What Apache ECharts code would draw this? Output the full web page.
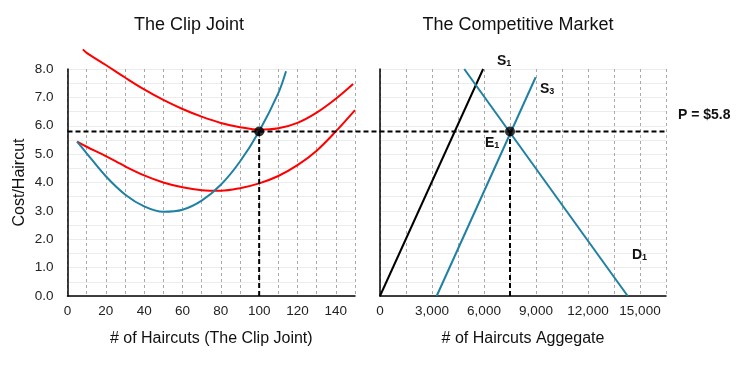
<!DOCTYPE html>
<html><head><meta charset="utf-8">
<script src="https://cdn.jsdelivr.net/npm/echarts@6/dist/echarts.min.js"></script>
<style>html,body{margin:0;padding:0;background:#fff}#c{width:753px;height:366px}</style>
</head><body><div id="c"></div>
<script>
// ---- data ----
const titles = ['The Clip Joint', 'The Competitive Market'];
const axisNames = ['# of Haircuts (The Clip Joint)', '# of Haircuts Aggegate', 'Cost/Haircut'];
const clipTickLabels = [0, 20, 40, 60, 80, 100, 120, 140];
const marketTickLabels = [0, 3000, 6000, 9000, 12000, 15000];
const costTickLabels = [0, 1, 2, 3, 4, 5, 6, 7, 8];

const mcQ   = [5, 10, 20, 30, 40, 50, 60, 70, 80, 90, 100, 110, 114];
const mcV   = [5.44, 5.03, 4.22, 3.58, 3.16, 2.97, 3.04, 3.36, 3.92, 4.74, 5.81, 7.15, 7.92];
const avcQ  = [5, 10, 20, 30, 40, 50, 60, 70, 80, 90, 100, 110, 120, 130, 140, 150];
const avcV  = [5.44, 5.26, 4.93, 4.57, 4.25, 4.00, 3.83, 3.73, 3.71, 3.80, 3.97, 4.23, 4.61, 5.12, 5.80, 6.55];
const atcQ  = [8, 10, 20, 30, 40, 50, 60, 70, 80, 90, 100, 110, 120, 130, 140, 149];
const atcV  = [8.69, 8.57, 8.14, 7.70, 7.28, 6.91, 6.59, 6.32, 6.10, 5.95, 5.86, 5.91, 6.10, 6.46, 6.95, 7.47];

const s1Q = [0, 5950];     const s1P = [0, 8.0];
const s3Q = [3270, 8980];  const s3P = [0, 7.71];
const d1Q = [4860, 14290]; const d1P = [8.0, 0];

const price = 5.8;
const firmQ = 100;
const marketQ = 7500;

// ---- helpers ----
const zip = (a, b) => a.map((v, i) => [v, b[i]]);
const FONT = '"Liberation Sans", Arial, Helvetica, sans-serif';
const BLUE = '#1f80a3';
const RED = '#ff0000';

const chart = echarts.init(document.getElementById('c'), null, {renderer: 'canvas'});

const dashed = {color: '#000', width: 2, type: [5, 3]};
function curve(name, data, color, xi) {
  return {name, type: 'line', xAxisIndex: xi, yAxisIndex: xi, data, smooth: 0.35,
    showSymbol: false, symbol: 'none', clip: false, lineStyle: {color, width: 2}, z: 3, silent: true};
}
function straight(name, data, color, xi) {
  return {name, type: 'line', xAxisIndex: xi, yAxisIndex: xi, data,
    showSymbol: false, symbol: 'none', clip: false, lineStyle: {color, width: 2}, z: 3, silent: true};
}
function dash(data, xi) {
  return {type: 'line', xAxisIndex: xi, yAxisIndex: xi, data, showSymbol: false, symbol: 'none',
    lineStyle: dashed, z: 4, silent: true};
}
function dot(data, xi) {
  return {type: 'scatter', xAxisIndex: xi, yAxisIndex: xi, data, symbolSize: 10,
    itemStyle: {color: '#000'}, z: 6, silent: true};
}

const vSplit = {show: true, lineStyle: {color: '#aaa', type: [3, 3], width: 1}};
const hSplit = {show: true, lineStyle: {color: '#ececec', width: 1}};
const axLine = {show: true, lineStyle: {color: '#000', width: 1.5}};
const lblStyle = {color: '#222', fontSize: 13.5, fontFamily: FONT};

const option = {
  animation: false,
  backgroundColor: '#fff',
  title: [
    {text: titles[0], left: 184, top: 11, textAlign: 'center',
     textStyle: {fontSize: 18, fontWeight: 'normal', color: '#111', fontFamily: FONT}},
    {text: titles[1], left: 513, top: 11, textAlign: 'center',
     textStyle: {fontSize: 18, fontWeight: 'normal', color: '#111', fontFamily: FONT}}
  ],
  grid: [
    {left: 67.5, top: 69, width: 287.5, height: 227},
    {left: 380, top: 69, width: 286, height: 227},
    {left: 67.5, top: 69, width: 598.5, height: 227}
  ],
  xAxis: [
    {gridIndex: 0, type: 'value', min: 0, max: 150, interval: 10,
     name: axisNames[0], nameLocation: 'middle', nameGap: 35,
     nameTextStyle: {fontSize: 16, color: '#111', fontFamily: FONT},
     axisLine: axLine, axisTick: {show: false}, splitLine: vSplit,
     axisLabel: Object.assign({margin: 8, formatter: v => clipTickLabels.includes(v) ? String(v) : ''}, lblStyle)},
    {gridIndex: 1, type: 'value', min: 0, max: 16500, interval: 1500,
     name: axisNames[1], nameLocation: 'middle', nameGap: 35,
     nameTextStyle: {fontSize: 16, color: '#111', fontFamily: FONT},
     axisLine: axLine, axisTick: {show: false}, splitLine: vSplit,
     axisLabel: Object.assign({margin: 8, formatter: v => marketTickLabels.includes(v) ? v.toLocaleString('en-US') : ''}, lblStyle)},
    {gridIndex: 2, type: 'value', min: 0, max: 1, show: false}
  ],
  yAxis: [
    {gridIndex: 0, type: 'value', min: 0, max: 8, interval: 0.5,
     name: axisNames[2], nameLocation: 'middle', nameGap: 40,
     nameTextStyle: {fontSize: 16, color: '#111', fontFamily: FONT},
     axisLine: axLine, axisTick: {show: false}, splitLine: hSplit,
     axisLabel: Object.assign({margin: 14, formatter: v => costTickLabels.includes(v) ? v.toFixed(1) : ''}, lblStyle)},
    {gridIndex: 1, type: 'value', min: 0, max: 8, interval: 0.5,
     axisLine: axLine, axisTick: {show: false}, splitLine: hSplit, axisLabel: {show: false}},
    {gridIndex: 2, type: 'value', min: 0, max: 8, show: false}
  ],
  series: [
    curve('ATC', zip(atcQ, atcV), RED, 0),
    curve('AVC', zip(avcQ, avcV), RED, 0),
    curve('MC', zip(mcQ, mcV), BLUE, 0),
    dash([[firmQ, 0], [firmQ, price]], 0),
    dot([[firmQ, price]], 0),
    straight('S1', zip(s1Q, s1P), '#000', 1),
    straight('S3', zip(s3Q, s3P), BLUE, 1),
    straight('D1', zip(d1Q, d1P), BLUE, 1),
    dash([[marketQ, 0], [marketQ, price]], 1),
    dot([[marketQ, price]], 1),
    dash([[0, price], [1, price]], 2)
  ],
  graphic: [
    {type: 'text', left: 497, top: 54, z: 10, style: {text: '{a|S}{b|1}', rich: {
      a: {fontSize: 14, fontWeight: 'bold', fontFamily: FONT, fill: '#111', verticalAlign: 'bottom'},
      b: {fontSize: 9, fontWeight: 'bold', fontFamily: FONT, fill: '#111', verticalAlign: 'bottom'}}}},
    {type: 'text', left: 540, top: 82, z: 10, style: {text: '{a|S}{b|3}', rich: {
      a: {fontSize: 14, fontWeight: 'bold', fontFamily: FONT, fill: '#111', verticalAlign: 'bottom'},
      b: {fontSize: 9, fontWeight: 'bold', fontFamily: FONT, fill: '#111', verticalAlign: 'bottom'}}}},
    {type: 'text', left: 485, top: 136, z: 10, style: {text: '{a|E}{b|1}', rich: {
      a: {fontSize: 14, fontWeight: 'bold', fontFamily: FONT, fill: '#111', verticalAlign: 'bottom'},
      b: {fontSize: 9, fontWeight: 'bold', fontFamily: FONT, fill: '#111', verticalAlign: 'bottom'}}}},
    {type: 'text', left: 632, top: 248, z: 10, style: {text: '{a|D}{b|1}', rich: {
      a: {fontSize: 14, fontWeight: 'bold', fontFamily: FONT, fill: '#111', verticalAlign: 'bottom'},
      b: {fontSize: 9, fontWeight: 'bold', fontFamily: FONT, fill: '#111', verticalAlign: 'bottom'}}}},
    {type: 'text', left: 678, top: 108, z: 10, style: {text: 'P = $5.8',
      font: 'bold 14px ' + FONT, fill: '#111'}}
  ]
};
chart.setOption(option);
</script>
</body></html>
